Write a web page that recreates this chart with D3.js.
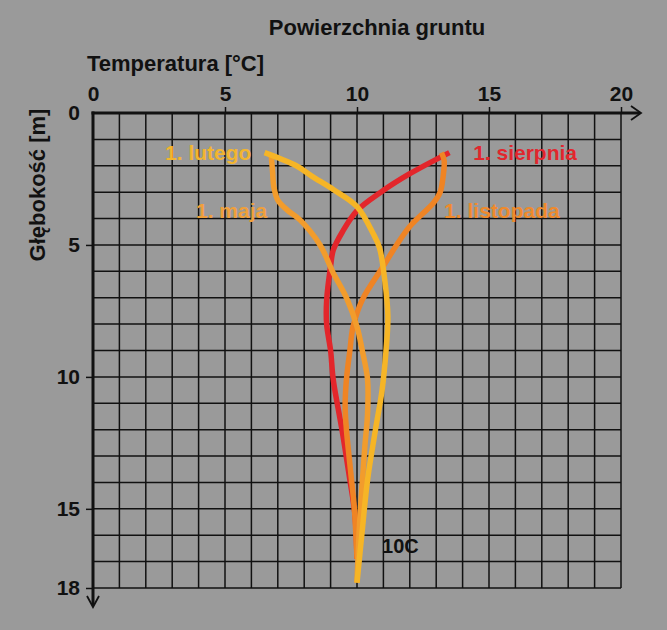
<!DOCTYPE html>
<html><head><meta charset="utf-8">
<script src="https://cdn.jsdelivr.net/npm/d3@7"></script>
<style>
html,body{margin:0;padding:0;background:#9a9a9a;}
svg{display:block;}
text{font-family:"Liberation Sans",Arial,Helvetica,sans-serif;font-weight:bold;}
</style></head>
<body>
<script>
// ---- data ----
const xTicks = [0, 5, 10, 15, 20];
const yTicks = [0, 5, 10, 15, 18];
const title = "Powierzchnia gruntu";
const xTitle = "Temperatura [°C]";
const yTitle = "Głębokość [m]";

// depth [m] and temperature [°C] per curve
const sierpniaDepth = [1.5, 2.3, 3.0, 3.7, 4.5, 5.2, 5.8, 7.1, 8.0, 9.0, 10.1, 12.0, 13.9, 15.2, 16.9];
const sierpniaTemp  = [13.5, 12.0, 10.9, 10.0, 9.45, 9.1, 9.0, 8.85, 8.85, 9.0, 9.1, 9.43, 9.73, 9.92, 10.0];

const lutegoDepth = [1.5, 2.0, 2.4, 2.9, 3.55, 4.55, 5.1, 6.4, 7.7, 9.0, 10.5, 12.0, 13.9, 15.8, 17.8];
const lutegoTemp  = [6.5, 7.7, 8.3, 9.1, 10.0, 10.6, 10.85, 11.06, 11.17, 11.1, 10.95, 10.7, 10.4, 10.2, 10.0];

const majaDepth = [1.6, 2.2, 2.8, 3.3, 3.67, 4.05, 5.0, 6.06, 7.0, 8.1, 9.0, 10.1, 11.4, 12.6, 14.0, 15.5, 17.8];
const majaTemp  = [6.75, 6.8, 6.85, 7.0, 7.35, 7.84, 8.6, 9.1, 9.6, 10.0, 10.2, 10.4, 10.4, 10.3, 10.2, 10.1, 10.0];

const listopadaDepth = [1.5, 1.8, 2.5, 3.0, 3.4, 4.3, 5.0, 5.8, 7.08, 8.1, 9.0, 10.1, 11.1, 12.0, 13.5, 15.0, 16.9];
const listopadaTemp  = [13.2, 13.3, 13.25, 13.15, 12.9, 12.0, 11.5, 11.0, 10.2, 9.85, 9.73, 9.6, 9.55, 9.6, 9.75, 9.9, 10.0];

const seriesNames = ["1. sierpnia", "1. listopada", "1. maja", "1. lutego"];
const seriesColors = ["#e3262b", "#ef8424", "#f29c2c", "#f6b526"];
const labelColors  = ["#e2262d", "#ef8a2c", "#f0a03a", "#f2b52f"];
// label anchor points (temperature, depth)
const labelTemp  = [14.4, 13.3, 6.6, 6.0];
const labelDepth = [1.5, 3.7, 3.7, 1.5];
const labelAnchor = ["start", "start", "end", "end"];
const note = "10C", noteTemp = 10.95, noteDepth = 16.4;

// ---- layout ----
const W = 667, H = 630;
const x = d3.scaleLinear().domain([0, 20]).range([93, 621]);
const y = d3.scaleLinear().domain([0, 18]).range([113, 588]);

const svg = d3.select("body").append("svg").attr("width", W).attr("height", H);
svg.append("rect").attr("width", W).attr("height", H).attr("fill", "#9a9a9a");

// grid
const gx = d3.range(1, 21), gy = d3.range(1, 19);
svg.append("g").selectAll("line").data(gx).join("line")
  .attr("x1", d => x(d)).attr("x2", d => x(d)).attr("y1", y(0)).attr("y2", y(18))
  .attr("stroke", "#111").attr("stroke-width", 1.5);
svg.append("g").selectAll("line").data(gy).join("line")
  .attr("y1", d => y(d)).attr("y2", d => y(d)).attr("x1", x(0)).attr("x2", x(20))
  .attr("stroke", "#111").attr("stroke-width", 1.5);

// axes
const xAxis = d3.axisTop(x).tickValues(xTicks).tickSize(6).tickPadding(6).tickFormat(d3.format("d"));
const gxa = svg.append("g").attr("transform", `translate(0,${y(0)})`).call(xAxis);
gxa.select(".domain").remove();
gxa.selectAll(".tick line").attr("stroke", "#111").attr("stroke-width", 1.5).filter(d => d === 0).remove();
gxa.selectAll("text").attr("font-size", 21).attr("fill", "#111").attr("font-family", null).attr("font-weight", "bold");

const yAxis = d3.axisLeft(y).tickValues(yTicks).tickSize(7).tickPadding(6).tickFormat(d3.format("d"));
const gya = svg.append("g").attr("transform", `translate(${x(0)},0)`).call(yAxis);
gya.select(".domain").remove();
gya.selectAll(".tick line").attr("stroke", "#111").attr("stroke-width", 1.5).filter(d => d === 0).remove();
gya.selectAll("text").attr("font-size", 21).attr("fill", "#111").attr("font-family", null).attr("font-weight", "bold");

// main axis lines with arrows
svg.append("line").attr("x1", x(0) - 1.5).attr("x2", 640).attr("y1", y(0)).attr("y2", y(0))
  .attr("stroke", "#111").attr("stroke-width", 3);
svg.append("path").attr("d", `M${631},${y(0) - 7}L${641},${y(0)}L${631},${y(0) + 7}`)
  .attr("fill", "none").attr("stroke", "#111").attr("stroke-width", 1.8);
svg.append("line").attr("x1", x(0)).attr("x2", x(0)).attr("y1", y(0) - 1.5).attr("y2", 605)
  .attr("stroke", "#111").attr("stroke-width", 3);
svg.append("path").attr("d", `M${x(0) - 6},${596}L${x(0)},${607}L${x(0) + 6},${596}`)
  .attr("fill", "none").attr("stroke", "#111").attr("stroke-width", 1.8);

// titles
svg.append("text").attr("x", 377).attr("y", 35).attr("text-anchor", "middle")
  .attr("font-size", 22).attr("fill", "#111").text(title);
svg.append("text").attr("x", 87).attr("y", 71).attr("text-anchor", "start")
  .attr("font-size", 22).attr("fill", "#111").text(xTitle);
svg.append("text").attr("transform", `translate(45,185) rotate(-90)`).attr("text-anchor", "middle")
  .attr("font-size", 22).attr("fill", "#111").text(yTitle);

// curves
const depths = [sierpniaDepth, listopadaDepth, majaDepth, lutegoDepth];
const temps = [sierpniaTemp, listopadaTemp, majaTemp, lutegoTemp];
const line = d3.line().x(p => x(p[0])).y(p => y(p[1])).curve(d3.curveCatmullRom.alpha(0.5));
seriesNames.forEach((name, i) => {
  const pts = depths[i].map((d, k) => [temps[i][k], d]);
  svg.append("path").datum(pts).attr("d", line)
    .attr("fill", "none").attr("stroke", seriesColors[i]).attr("stroke-width", 5.5)
    .attr("stroke-linecap", "butt").attr("stroke-linejoin", "round");
});

// labels
seriesNames.forEach((name, i) => {
  svg.append("text").attr("x", x(labelTemp[i])).attr("y", y(labelDepth[i])).attr("dy", "0.35em")
    .attr("text-anchor", labelAnchor[i]).attr("font-size", 21).attr("fill", labelColors[i]).text(name);
});
svg.append("text").attr("x", x(noteTemp)).attr("y", y(noteDepth)).attr("dy", "0.35em")
  .attr("font-size", 20).attr("fill", "#111").text(note);
</script>
</body></html>
